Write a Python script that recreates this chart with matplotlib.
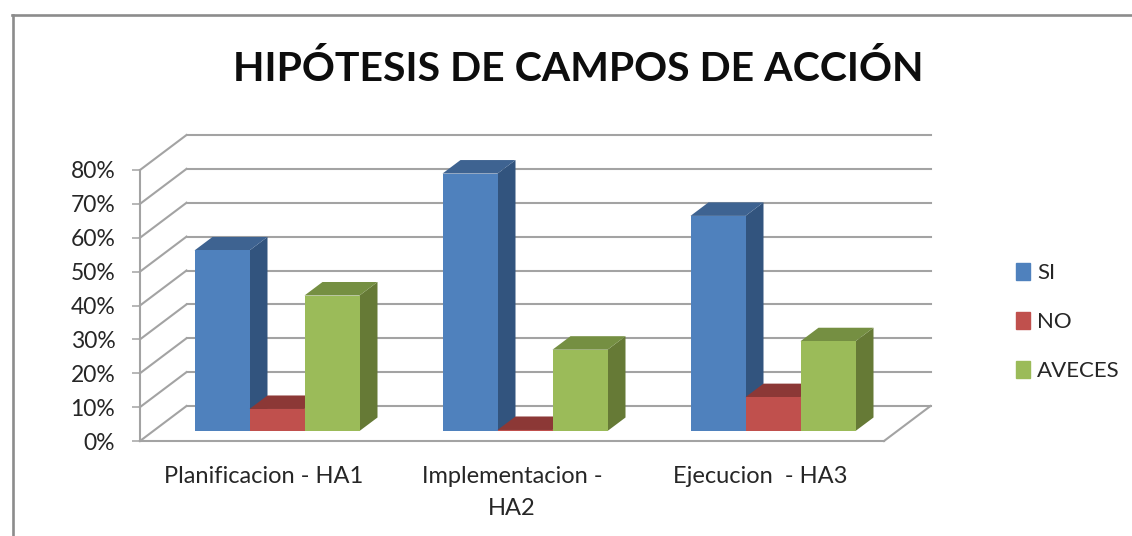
import numpy as np
import matplotlib.pyplot as plt
from matplotlib.lines import Line2D
from matplotlib.patches import Patch, Polygon

plt.rcParams['font.family'] = ['Lato', 'DejaVu Sans']

# Values (percent)
categories = ['Planificacion - HA1', 'Implementacion -\nHA2', 'Ejecucion  - HA3']
si = [53.3, 76, 63.5]
no = [6.5, 0.3, 10]
aveces = [40, 24, 26.5]
y_ticks = [0, 10, 20, 30, 40, 50, 60, 70, 80]
title = 'HIPÓTESIS DE CAMPOS DE ACCIÓN'

W, H = 1132, 536
PX_X = 248.0  # pixels per category
PX_Y = 3.3875  # pixels per percent

fig = plt.figure(figsize=(W / 100, H / 100), dpi=100)
ax = fig.add_axes([140 / W, 1 - 441 / H, 744 / W, 271 / H])
ax.set_xlim(0, 3)
ax.set_ylim(0, 80)
ax.patch.set_visible(False)

grid = '#a3a3a3'
text_col = '#262626'

# Fake 3D depth of the walls and of the bars, in data units
wall_dx, wall_dy = 46.5 / PX_X, 35 / PX_Y
bar_dx, bar_dy = 18 / PX_X, 13.5 / PX_Y
floor_dx, floor_dy = 13 / PX_X, 10 / PX_Y
bar_w = 55 / PX_X

# Back wall grid and the diagonals on the side wall
for v in y_ticks:
    ax.plot([0, wall_dx], [v, v + wall_dy], color=grid, lw=1.5, clip_on=False, zorder=1)
    ax.plot([wall_dx, 3 + wall_dx], [v + wall_dy, v + wall_dy], color=grid, lw=1.5, clip_on=False, zorder=1)
ax.plot([3, 3 + wall_dx], [0, wall_dy], color=grid, lw=1.5, clip_on=False, zorder=1)


def draw_bar(x, v, front, side, top, z):
    # front face through ax.bar, the two other faces follow from the value
    ax.bar(x, v, bar_w, bottom=floor_dy, align='edge', color=front, zorder=z + 0.2, clip_on=False)
    x1 = x + bar_w
    y1 = floor_dy + v
    ax.add_patch(Polygon([(x1, floor_dy), (x1 + bar_dx, floor_dy + bar_dy), (x1 + bar_dx, y1 + bar_dy), (x1, y1)],
                         color=side, lw=0, zorder=z, clip_on=False))
    ax.add_patch(Polygon([(x, y1), (x + bar_dx, y1 + bar_dy), (x1 + bar_dx, y1 + bar_dy), (x1, y1)],
                         color=top, lw=0, zorder=z + 0.1, clip_on=False))


series = [(si, '#4f81bd', '#32547e', '#3e6391'),
          (no, '#c0504d', '#8c3836', '#8c3836'),
          (aveces, '#9bbb59', '#667a36', '#758f42')]
for i in range(len(categories)):
    center = i + 0.5 + floor_dx
    for j, (vals, front, side, top) in enumerate(series):
        draw_bar(center + (j - 1.5) * bar_w, vals[i], front, side, top, 3 + j)

ax.set_xticks([i + 0.5 for i in range(len(categories))])
ax.set_xticklabels(categories, fontsize=17, color=text_col, linespacing=1.65, va='top')
ax.tick_params(axis='x', length=0, pad=18)
ax.set_yticks(y_ticks)
ax.set_yticklabels([f'{v}%' for v in y_ticks], fontsize=16.5, color=text_col)
ax.tick_params(axis='y', length=5.8, width=1.1, color=grid, pad=12)
for s in ['top', 'right']:
    ax.spines[s].set_visible(False)
for s in ['left', 'bottom']:
    ax.spines[s].set_color(grid)
    ax.spines[s].set_linewidth(1.5)

fig.text(578.5 / W, 1 - 81 / H, title, fontsize=29.5, fontweight='bold', color='#0d0d0d', ha='center', va='baseline')

handles = [Patch(color=s[1], label=n) for s, n in zip(series, ['SI', 'NO', 'AVECES'])]
fig.legend(handles=handles, loc='center left', bbox_to_anchor=(1016 / W, 1 - 322 / H), frameon=False,
           fontsize=16, labelcolor=text_col, handlelength=0.63, handleheight=0.85, handletextpad=0.33,
           labelspacing=1.28, borderpad=0, borderaxespad=0)

# Chart border, the reference is cropped at right and bottom
border = '#8c8c8c'
fig.add_artist(Line2D([12.5 / W, 12.5 / W], [0, 1 - 15 / H], color=border, lw=1.9))
fig.add_artist(Line2D([12 / W, 1], [1 - 15 / H, 1 - 15 / H], color=border, lw=1.9))

fig.savefig('out.png', dpi=100)
